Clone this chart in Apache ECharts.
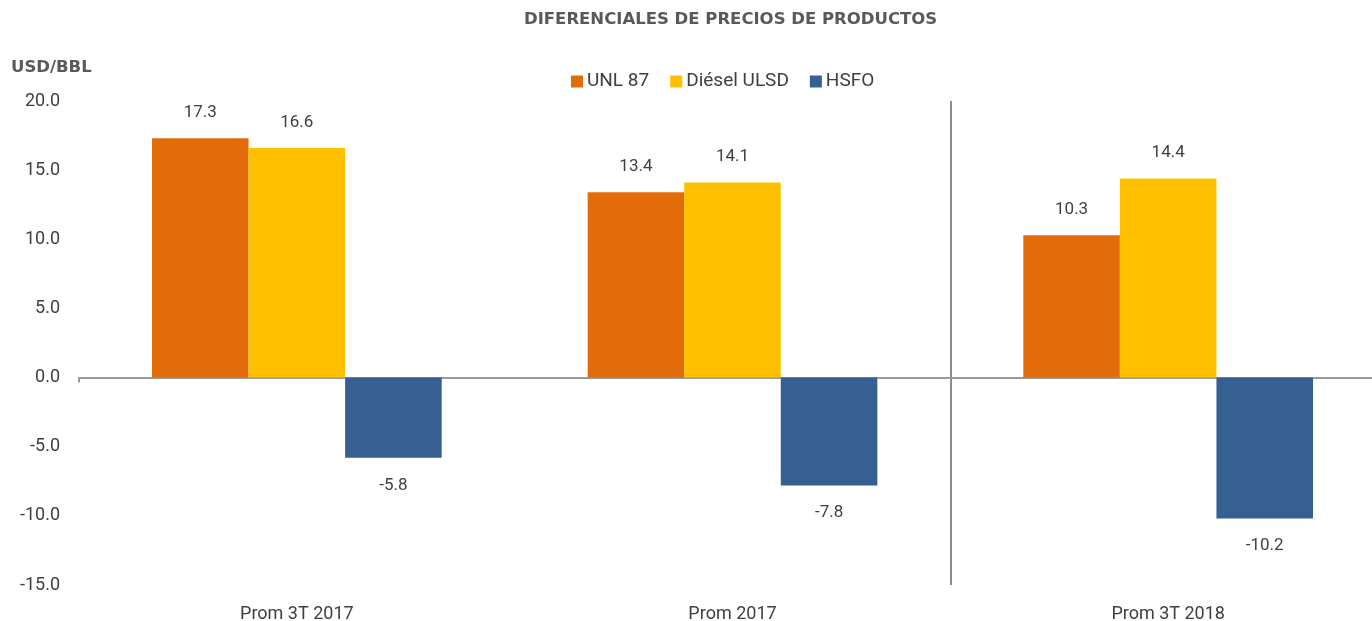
<!DOCTYPE html>
<html>
<head>
<meta charset="utf-8">
<script src="https://cdn.jsdelivr.net/npm/echarts@6/dist/echarts.min.js"></script>
<style>
  html, body { margin: 0; padding: 0; background: #fff; }
  #main { width: 1372px; height: 621px; }
</style>
</head>
<body>
<div id="main"></div>
<script>
// chart data
const categories = ["Prom 3T 2017", "Prom 2017", "Prom 3T 2018"];
const unl87 = [17.3, 13.4, 10.3];
const dieselUlsd = [16.6, 14.1, 14.4];
const hsfo = [-5.8, -7.8, -10.2];
const yTicks = { min: -15, max: 20, interval: 5 };

const textColor = "#404040";
const fontFamily = "Roboto, 'DejaVu Sans', sans-serif";
const boldFamily = "'DejaVu Sans', sans-serif";

const myChart = echarts.init(document.getElementById("main"));

const barLabel = (position, distance) => ({
  show: true,
  position: position,
  distance: distance,
  fontSize: 17,
  color: textColor,
  fontFamily: fontFamily,
  formatter: (p) => p.value.toFixed(1),
});

const option = {
  animation: false,
  textStyle: { fontFamily: fontFamily },
  title: [
    {
      text: "DIFERENCIALES DE PRECIOS DE PRODUCTOS",
      left: 519,
      top: 6,
      textStyle: { fontSize: 16.5, fontWeight: "bold", color: "#595959", fontFamily: boldFamily },
    },
    {
      text: "USD/BBL",
      left: 6,
      top: 54,
      textStyle: { fontSize: 16.5, fontWeight: "bold", color: "#595959", fontFamily: boldFamily },
    },
  ],
  legend: {
    left: 566,
    top: 67,
    itemWidth: 12,
    itemHeight: 12,
    itemGap: 21,
    icon: "rect",
    textStyle: { fontSize: 19, color: textColor, padding: [0, 0, 0, -1] },
    data: ["UNL 87", "Diésel ULSD", "HSFO"],
  },
  grid: { left: 79, top: 101, right: -14, bottom: 36, outerBoundsMode: "none" },
  xAxis: [
    {
      type: "category",
      data: categories,
      axisLine: { show: false, onZero: false },
      axisTick: { show: false },
      axisLabel: { fontSize: 18, color: textColor, margin: 20 },
      splitLine: {
        show: true,
        interval: 0,
        lineStyle: { color: ["rgba(0,0,0,0)", "rgba(0,0,0,0)", "#8c8c8c", "rgba(0,0,0,0)"], width: 2 },
      },
    },
    {
      type: "category",
      data: categories,
      position: "bottom",
      axisLine: { show: true, onZero: true, lineStyle: { color: "#999999", width: 2 } },
      axisTick: { show: true, interval: (i) => i === 0, length: 5, lineStyle: { color: "#999999", width: 2 } },
      axisLabel: { show: false },
      splitLine: { show: false },
    },
  ],
  yAxis: {
    type: "value",
    min: yTicks.min,
    max: yTicks.max,
    interval: yTicks.interval,
    axisLine: { show: false },
    axisTick: { show: false },
    splitLine: { show: false },
    axisLabel: {
      fontSize: 18,
      color: textColor,
      margin: 19,
      formatter: (v) => v.toFixed(1),
    },
  },
  series: [
    {
      name: "UNL 87",
      type: "bar",
      data: unl87,
      barGap: "0%",
      barCategoryGap: "33.5%",
      itemStyle: { color: "#E36C0A" },
      label: barLabel("top", 17),
    },
    {
      name: "Diésel ULSD",
      type: "bar",
      data: dieselUlsd,
      itemStyle: { color: "#FFC000" },
      label: barLabel("top", 17),
    },
    {
      name: "HSFO",
      type: "bar",
      data: hsfo,
      itemStyle: { color: "#366092" },
      label: barLabel("bottom", 19),
    },
  ],
};

myChart.setOption(option);
</script>
</body>
</html>
